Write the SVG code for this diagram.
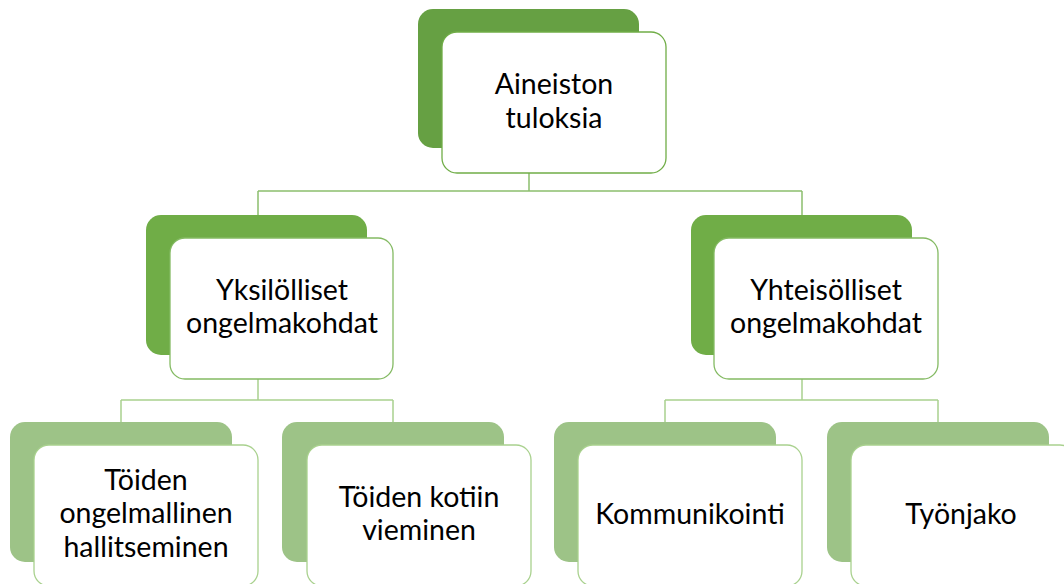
<svg xmlns="http://www.w3.org/2000/svg" width="1064" height="584" viewBox="0 0 1064 584">
<style>
.bg{fill:#ffffff}
.b1{fill:#66A043}
.b2{fill:#70AD47}
.b3{fill:#9DC387}
.f1{fill:#ffffff;stroke:#70AD47;stroke-width:1.3}
.f2{fill:#ffffff;stroke:#84BA63;stroke-width:1.3}
.f3{fill:#ffffff;stroke:#A9D18E;stroke-width:1.3}
.c1{fill:none;stroke:#8CBF6E;stroke-width:1.5}
.c2{fill:none;stroke:#A9D18E;stroke-width:1.5}
text{font-family:Lato,"Liberation Sans",sans-serif;font-size:28.5px;fill:#000000;text-anchor:middle}
</style>
<rect class="bg" x="0" y="0" width="1064" height="584"/>
<g id="connectors">
<path class="c1" d="M529 173V191M258 191H802M258 191V215M802 191V215"/>
<path class="c2" d="M258 379V400M121 400H393M121 400V422M393 400V422"/>
<path class="c2" d="M802 379V400M665 400H938M665 400V422M938 400V422"/>
</g>
<g id="n-top">
<rect class="b1" x="418" y="9" width="221" height="139" rx="15"/>
<rect class="f1" x="442" y="32" width="224" height="141" rx="15"/>
<text x="554" y="94">Aineiston</text>
<text x="554" y="128">tuloksia</text>
</g>
<g id="n-yksi">
<rect class="b2" x="146" y="215" width="221" height="140" rx="15"/>
<rect class="f2" x="170" y="238" width="223" height="141" rx="15"/>
<text x="282" y="300">Yksilölliset</text>
<text x="282" y="333">ongelmakohdat</text>
</g>
<g id="n-yhte">
<rect class="b2" x="691" y="215" width="221" height="140" rx="15"/>
<rect class="f2" x="714" y="238" width="224" height="141" rx="15"/>
<text x="826" y="300">Yhteisölliset</text>
<text x="826" y="333">ongelmakohdat</text>
</g>
<g id="n-toiden1">
<rect class="b3" x="10" y="422" width="222" height="140" rx="15"/>
<rect class="f3" x="34" y="445" width="224" height="141" rx="15"/>
<text x="146" y="490">Töiden</text>
<text x="146" y="523">ongelmallinen</text>
<text x="146" y="557">hallitseminen</text>
</g>
<g id="n-toiden2">
<rect class="b3" x="282" y="422" width="222" height="140" rx="15"/>
<rect class="f3" x="307" y="445" width="224" height="141" rx="15"/>
<text x="419" y="507">Töiden kotiin</text>
<text x="419" y="540">vieminen</text>
</g>
<g id="n-komm">
<rect class="b3" x="554" y="422" width="222" height="140" rx="15"/>
<rect class="f3" x="578" y="445" width="224" height="141" rx="15"/>
<text x="690" y="524">Kommunikointi</text>
</g>
<g id="n-tyon">
<rect class="b3" x="827" y="422" width="222" height="140" rx="15"/>
<rect class="f3" x="851" y="445" width="224" height="141" rx="15"/>
<text x="961" y="524">Työnjako</text>
</g>
</svg>
